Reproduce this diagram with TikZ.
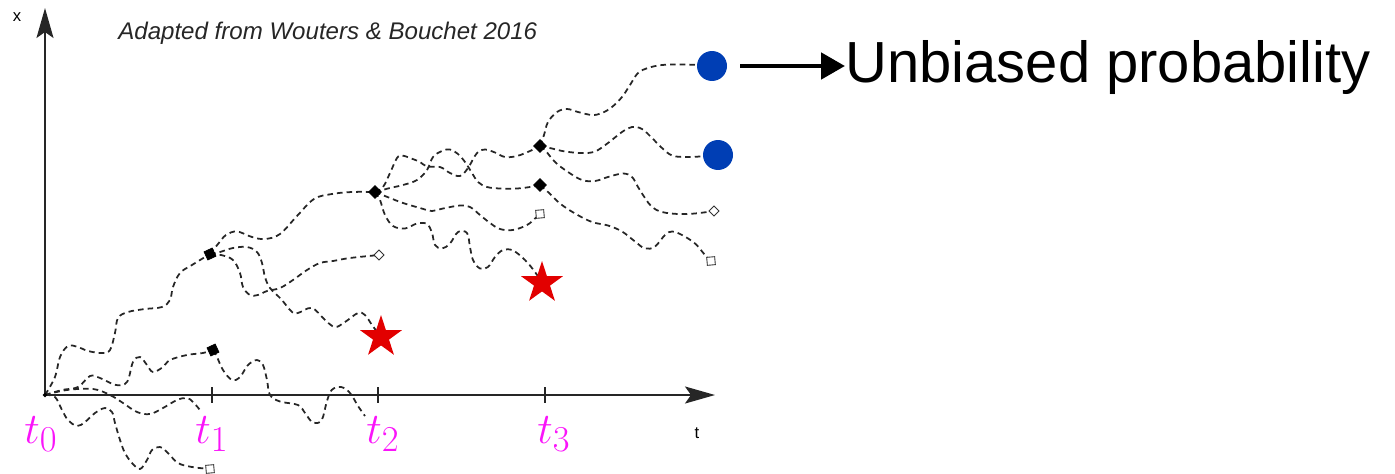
\documentclass[tikz,border=0pt]{standalone}
\usepackage[no-math]{fontspec}
\newfontfamily\arialfont{Liberation Sans}
\usepackage{tikz}
\usetikzlibrary{arrows.meta,positioning,shapes.geometric,backgrounds}
\definecolor{dotblue}{RGB}{0,62,180}
\definecolor{starred}{RGB}{226,0,0}
\definecolor{tpink}{RGB}{250,20,250}

\begin{document}
\begin{tikzpicture}[x=0.02cm, y=-0.02cm,
    axis/.style={line width=1.1pt, draw=black!85,
                 -{Stealth[length=0.6cm, width=0.34cm, inset=0.12cm]}},
    walk/.style={draw=black!85, line width=1pt, dash pattern=on 3.2pt off 2.3pt},
    clonept/.style={diamond, draw=black, fill=black, inner sep=0pt, minimum size=0.26cm},
    clonesq/.style={rectangle, draw=black, fill=black, inner sep=0pt, minimum size=0.18cm, rotate=25},
    killsq/.style={rectangle, draw=black!80, fill=white, line width=0.5pt, inner sep=0pt, minimum size=0.16cm, rotate=5},
    killdm/.style={diamond, draw=black!80, fill=white, line width=0.5pt, inner sep=0pt, minimum size=0.21cm},
    winner/.style={circle, fill=dotblue, inner sep=0pt, minimum size=0.6cm},
    loser/.style={star, star points=5, star point ratio=2.618, fill=starred, inner sep=0pt, minimum size=0.88cm},
    tlab/.style={text=tpink, font=\fontsize{28}{30}\selectfont, anchor=base, inner sep=0pt},
    axlab/.style={font=\arialfont\fontsize{9.5}{10}\selectfont, anchor=base, inner sep=0pt}
  ]
  \useasboundingbox (0,0) rectangle (1395,473);

  % axes
  \coordinate (o) at (45,395);
  \coordinate (xend) at (715,395);
  \coordinate (yend) at (45,8);
  \draw[axis] (o) -- (xend);
  \draw[axis] (o) -- (yend);
  \node[axlab] (xlab) at (17,22) {x};
  \node[axlab] (tlab) at (697,438) {t};
  \node[diamond, fill=black, inner sep=0pt, minimum size=0.1cm] (start) at (o) {};

  \node[tlab] (t0) at (41,443) {$t_0$};
  \foreach \x/\c/\n in {212/212/1, 378/383/2, 545/554/3} {
    \draw[line width=1pt, black!85] (\x,387) -- (\x,403);
    \node[tlab] (t\n) at (\c,443) {$t_\n$};
  }

  \node[font=\arialfont\itshape\fontsize{13.7}{16}\selectfont, text=black!85,
        anchor=base west, inner sep=0pt] (credit) at (118,40)
        {Adapted from Wouters \& Bouchet 2016};

  % clones and end points
  \node[clonesq] (c1a) at (210,254) {};
  \node[clonesq] (c1b) at (213,350) {};
  \node[clonept] (c2)  at (375,192) {};
  \node[clonept] (c3a) at (540,146) {};
  \node[clonept] (c3b) at (540,185) {};
  \node[killsq] (sq1) at (210,469) {};
  \node[killdm] (dm2) at (379,255) {};
  \node[killsq] (sq3) at (540,214) {};
  \node[killdm] (dm4) at (714,211) {};
  \node[killsq] (sq4) at (711,261) {};
  \node[loser] (star2) at (381,337) {};
  \node[loser] (star3) at (542,283) {};
  \node[winner] (dot1) at (712,66) {};
  \node[winner] (dot2) at (718,155) {};
  \coordinate (e1) at (200,410);
  \coordinate (e2) at (365,416);

  \node[font=\arialfont\fontsize{33}{36}\selectfont, anchor=base west, inner sep=0pt]
        (unb) at (845,83) {Unbiased probability};
  \draw[line width=2.8pt, shorten <=0.26cm, -{Triangle[length=0.48cm, width=0.52cm]}]
        (dot1.east) -- (dot1.east -| unb.west);

  % trajectories
  \begin{scope}[on background layer]
  \draw[walk] plot[smooth, tension=0.6] coordinates {(o) (55,377) (60,357) (68,346) (78,347)
    (88,351) (102,353) (110,350) (115,333) (118,318) (128,312) (145,309) (162,307) (170,300)
    (173,287) (180,273) (192,265) (c1a)};
  \draw[walk] plot[smooth, tension=0.6] coordinates {(o) (62,390) (78,387) (90,376) (100,378)
    (116,385) (127,382) (133,362) (140,357) (147,365) (153,372) (163,367) (170,360) (187,355)
    (203,353) (c1b)};
  \draw[walk] plot[smooth, tension=0.6] coordinates {(o) (55,397) (62,410) (68,420) (77,426)
    (85,422) (95,413) (105,408) (112,412) (115,423) (120,440) (125,453) (132,463) (140,469)
    (147,460) (152,450) (160,447) (168,453) (178,463) (192,467) (sq1)};
  \draw[walk] plot[smooth, tension=0.6] coordinates {(o) (67,390) (93,389) (110,395) (123,403)
    (137,412) (150,414) (163,408) (177,400) (187,398) (193,402) (e1)};

  \draw[walk] plot[smooth, tension=0.6] coordinates {(c1a) (218,244) (226,235) (237,231.5)
    (252,237) (265,239) (280,234) (297,216) (314,199) (332,194) (352,192) (c2)};
  \draw[walk] plot[smooth, tension=0.6] coordinates {(c1a) (221,255) (233,260) (240,273)
    (243,287) (250,295) (258,295) (267,291) (280,288) (293,280) (307,270) (320,263) (333,261)
    (350,258) (dm2)};
  \draw[walk] plot[smooth, tension=0.6] coordinates {(c1a) (220,252) (233,248) (247,247)
    (257,252) (262,263) (265,277) (270,288) (281,299) (292,312) (298,313) (312,308) (325,320)
    (335,327) (345,322) (358,313) (365,315) (372,325) (star2)};
  \draw[walk] plot[smooth, tension=0.6] coordinates {(c1b) (217,357) (223,370) (232,380)
    (240,377) (248,365) (257,360) (263,365) (267,380) (270,395) (280,401.5) (298,405)
    (305,413) (313,422.7) (321.7,420) (326.7,402) (331.7,390) (341,387) (350,393) (358,406) (e2)};

  \draw[walk] plot[smooth, tension=0.6] coordinates {(c2) (383,187) (390,173) (397,158)
    (402,155.5) (410,158) (420,162) (427,166.5) (440,167) (450,173) (460,176) (468,168)
    (477,153) (485,149.5) (495,152.5) (505,157) (517,156) (530,151) (c3a)};
  \draw[walk] plot[smooth, tension=0.6] coordinates {(c2) (390,188) (403,185) (417,180)
    (427,170) (433,157) (442,151) (450,149.5) (458,154) (465,162) (472,173) (478,182)
    (487,187) (500,188.5) (517,188.5) (530,187) (c3b)};
  \draw[walk] plot[smooth, tension=0.6] coordinates {(c2) (390,198) (403,203) (420,208)
    (432,211) (443,208.5) (460,205.5) (470,207) (480,215) (490,223) (500,229) (513,230)
    (527,225) (535,218.5) (sq3)};
  \draw[walk] plot[smooth, tension=0.6] coordinates {(c2) (380,200) (385,215) (393,226)
    (405,228.5) (417,223.5) (427,224) (432,233) (435,245) (442,248.5) (450,243.5) (458,232)
    (467,233) (470,247) (473,260) (480,268.5) (488,267) (495,257) (503,250) (513,250.5)
    (525,260) (535,272) (star3)};

  \draw[walk] plot[smooth, tension=0.6] coordinates {(c3a) (544,135) (548,122) (557,112)
    (567,109) (578,112) (592,115) (602,113) (612,107) (622,97) (630,85) (638,73) (648,68)
    (662,65) (682,64.5) (698,65) (dot1)};
  \draw[walk] plot[smooth, tension=0.6] coordinates {(c3a) (552,148.5) (565,151.5) (582,153)
    (595,151.5) (608,143) (622,132) (632,127) (642,129) (652,138) (662,148) (672,155.5)
    (685,157) (700,156.5) (dot2)};
  \draw[walk] plot[smooth, tension=0.6] coordinates {(c3a) (545,150) (555,162) (568,172)
    (582,180) (595,181) (608,177) (623,173.5) (632,177) (638,187) (645,198) (652,207)
    (662,212) (678,214) (695,213.5) (dm4)};
  \draw[walk] plot[smooth, tension=0.6] coordinates {(c3b) (548,192) (560,203.5) (575,213.5)
    (592,222) (608,225.5) (622,231.5) (635,241.5) (645,248.5) (655,246.5) (665,235)
    (672,231.5) (682,235) (695,243.5) (705,255) (sq4)};
  \end{scope}
\end{tikzpicture}
\end{document}
